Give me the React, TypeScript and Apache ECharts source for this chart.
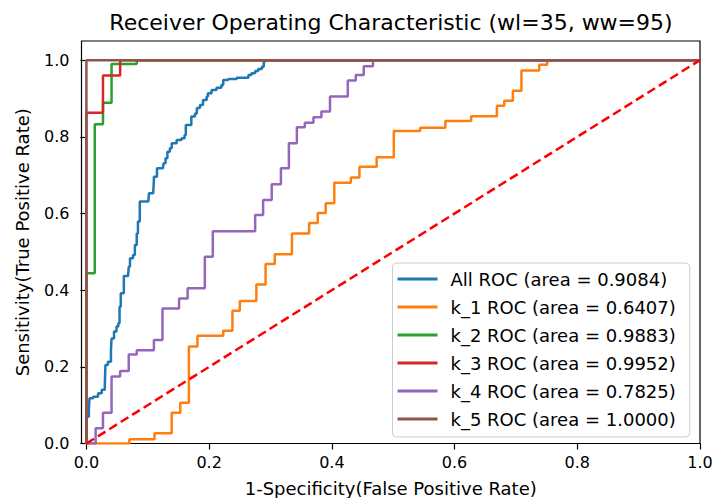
import React, { useEffect, useRef } from "react";
import * as echarts from "echarts";

// ---- Data ----
const titleText = "Receiver Operating Characteristic (wl=35, ww=95)";
const xAxisName = "1-Specificity(False Positive Rate)";
const yAxisName = "Sensitivity(True Positive Rate)";
const tickValues = [0, 0.2, 0.4, 0.6, 0.8, 1.0];

const seriesNames = [
  "All ROC (area = 0.9084)",
  "k_1 ROC (area = 0.6407)",
  "k_2 ROC (area = 0.9883)",
  "k_3 ROC (area = 0.9952)",
  "k_4 ROC (area = 0.7825)",
  "k_5 ROC (area = 1.0000)",
];
const seriesColors = ["#1f77b4", "#ff7f0e", "#2ca02c", "#d62728", "#9467bd", "#8c564b"];

// All ROC
const allFpr = [0, 0, 0.004, 0.005, 0.011, 0.019, 0.025, 0.030, 0.031, 0.035, 0.040, 0.041, 0.045, 0.049, 0.052, 0.054, 0.056, 0.061, 0.068, 0.069, 0.071, 0.076, 0.079, 0.082, 0.084, 0.087, 0.101, 0.102, 0.109, 0.110, 0.110, 0.115, 0.125, 0.126, 0.129, 0.132, 0.136, 0.139, 0.147, 0.155, 0.160, 0.162, 0.169, 0.171, 0.177, 0.180, 0.185, 0.190, 0.196, 0.198, 0.204, 0.212, 0.220, 0.223, 0.231, 0.245, 0.256, 0.264, 0.269, 0.275, 0.280, 0.286, 0.289, 0.291, 1];
const allTpr = [0, 0.07, 0.087, 0.118, 0.122, 0.131, 0.140, 0.153, 0.205, 0.213, 0.244, 0.274, 0.292, 0.305, 0.314, 0.357, 0.392, 0.437, 0.440, 0.461, 0.483, 0.492, 0.518, 0.548, 0.579, 0.631, 0.634, 0.653, 0.657, 0.687, 0.696, 0.718, 0.724, 0.731, 0.744, 0.761, 0.770, 0.783, 0.792, 0.796, 0.805, 0.831, 0.831, 0.853, 0.861, 0.875, 0.883, 0.896, 0.905, 0.914, 0.922, 0.928, 0.935, 0.948, 0.951, 0.954, 0.954, 0.961, 0.966, 0.972, 0.977, 0.983, 0.996, 1, 1];

// k_1
const k1Fpr = [0, 0.070, 0.111, 0.139, 0.153, 0.167, 0.181, 0.223, 0.238, 0.250, 0.277, 0.292, 0.307, 0.335, 0.363, 0.377, 0.390, 0.404, 0.431, 0.445, 0.473, 0.501, 0.544, 0.585, 0.627, 0.669, 0.681, 0.695, 0.709, 0.738, 0.751, 1];
const k1Tpr = [0, 0.011, 0.027, 0.080, 0.106, 0.253, 0.281, 0.294, 0.346, 0.372, 0.415, 0.468, 0.494, 0.548, 0.575, 0.601, 0.627, 0.680, 0.694, 0.722, 0.747, 0.815, 0.824, 0.841, 0.854, 0.881, 0.894, 0.920, 0.973, 0.988, 1, 1];

// k_2
const k2Fpr = [0, 0, 0.0136, 0.027, 0.041, 0.082, 1];
const k2Tpr = [0, 0.444, 0.833, 0.889, 0.990, 1, 1];

// k_3
const k3Fpr = [0, 0, 0.027, 0.055, 1];
const k3Tpr = [0, 0.863, 0.960, 1, 1];

// k_4
const k4Fpr = [0, 0.015, 0.027, 0.041, 0.055, 0.069, 0.082, 0.110, 0.124, 0.151, 0.165, 0.193, 0.206, 0.275, 0.288, 0.302, 0.317, 0.330, 0.343, 0.356, 0.370, 0.383, 0.397, 0.426, 0.439, 0.452, 0.467, 1];
const k4Tpr = [0, 0.040, 0.080, 0.175, 0.189, 0.232, 0.243, 0.270, 0.352, 0.378, 0.405, 0.487, 0.554, 0.596, 0.635, 0.676, 0.718, 0.783, 0.825, 0.837, 0.851, 0.866, 0.905, 0.947, 0.961, 0.984, 1, 1];

// k_5
const k5Fpr = [0, 0, 1];
const k5Tpr = [0, 1, 1];

// chance diagonal
const diagFpr = [0, 1];
const diagTpr = [0, 1];

const fprList = [allFpr, k1Fpr, k2Fpr, k3Fpr, k4Fpr, k5Fpr];
const tprList = [allTpr, k1Tpr, k2Tpr, k3Tpr, k4Tpr, k5Tpr];

const FONT = "DejaVu Sans";

export default function App() {
  const ref = useRef<HTMLDivElement>(null);

  useEffect(() => {
    if (!ref.current) return;
    const chart = echarts.init(ref.current, null, { renderer: "svg" });
    const zip = (xs: number[], ys: number[]) => xs.map((x, i) => [x, ys[i]]);

    const curveSeries = seriesNames.map((name, i) => ({
      name,
      type: "line",
      step: "end",
      data: zip(fprList[i], tprList[i]),
      showSymbol: false,
      symbol: "none",
      color: seriesColors[i],
      lineStyle: { color: seriesColors[i], width: 2.5 },
      emphasis: { disabled: true },
      z: 2 + i,
    }));

    chart.setOption({
      animation: false,
      title: {
        text: titleText,
        left: 386,
        top: 6,
        textAlign: "center",
        textStyle: { fontFamily: FONT, fontSize: 22, fontWeight: "normal", color: "#000" },
      },
      grid: {
        left: 81.5,
        right: 15,
        top: 41,
        bottom: 54.5,
        outerBoundsMode: "none",
        containLabel: false,
        show: true,
        borderColor: "#000",
        borderWidth: 1.2,
        backgroundColor: "transparent",
      },
      legend: {
        orient: "vertical",
        left: 392.5,
        top: 263,
        icon: "rect",
        itemWidth: 40,
        itemHeight: 3,
        itemGap: 10,
        padding: [7, 14, 9, 5],
        backgroundColor: "rgba(255,255,255,0.8)",
        borderColor: "#cccccc",
        borderWidth: 1,
        borderRadius: 4,
        data: seriesNames,
        textStyle: { fontFamily: FONT, fontSize: 18, color: "#000", lineHeight: 18, padding: [0, 0, 0, 8] },
      },
      xAxis: {
        type: "value",
        min: -0.008,
        max: 1,
        name: xAxisName,
        nameLocation: "middle",
        nameGap: 36,
        nameTextStyle: { fontFamily: FONT, fontSize: 18, color: "#000" },
        axisLine: { show: false },
        splitLine: { show: false },
        axisTick: { show: true, length: 6, customValues: tickValues, lineStyle: { color: "#000", width: 1.2 } },
        axisLabel: {
          customValues: tickValues,
          formatter: (v: number) => v.toFixed(1),
          margin: 11,
          fontFamily: FONT,
          fontSize: 16,
          color: "#000",
        },
      },
      yAxis: {
        type: "value",
        min: 0,
        max: 1.05,
        name: yAxisName,
        nameLocation: "middle",
        nameGap: 50,
        nameTextStyle: { fontFamily: FONT, fontSize: 18, color: "#000" },
        axisLine: { show: false },
        splitLine: { show: false },
        axisTick: { show: true, length: 6, customValues: tickValues, lineStyle: { color: "#000", width: 1.2 } },
        axisLabel: {
          customValues: tickValues,
          formatter: (v: number) => v.toFixed(1),
          margin: 12,
          fontFamily: FONT,
          fontSize: 16,
          color: "#000",
        },
      },
      series: [
        ...curveSeries,
        {
          name: "chance",
          type: "line",
          data: zip(diagFpr, diagTpr),
          showSymbol: false,
          symbol: "none",
          lineStyle: { color: "#ff0000", width: 2.5, type: [9, 4.5] },
          emphasis: { disabled: true },
          z: 10,
        },
      ],
    });

    return () => chart.dispose();
  }, []);

  return (
    <div
      ref={ref}
      style={{ position: "absolute", left: 0, top: 0, width: 715, height: 498, background: "#fff" }}
    />
  );
}
